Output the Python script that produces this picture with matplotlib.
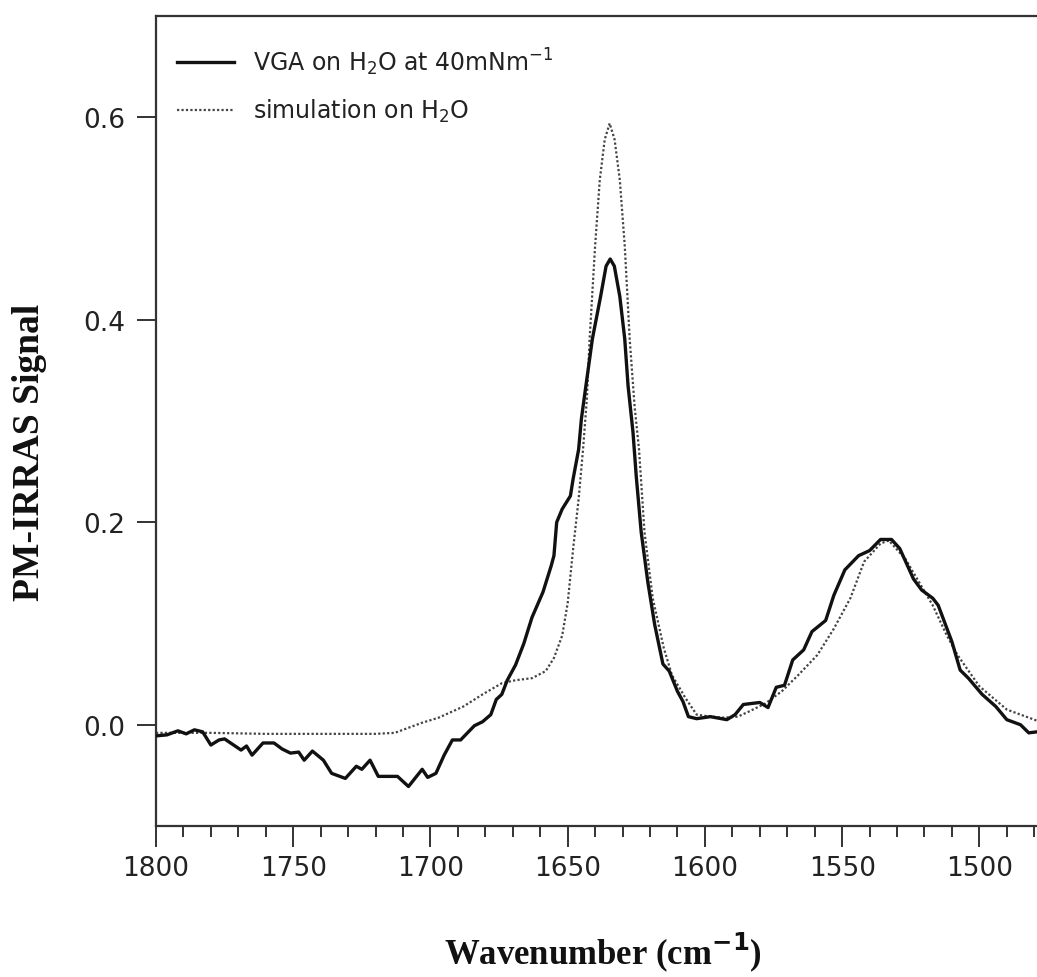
import matplotlib
matplotlib.use("Agg")
import matplotlib.pyplot as plt
from matplotlib.ticker import MultipleLocator

# measured spectrum (VGA monolayer on water)
vga_x = [1800, 1796, 1792, 1789, 1786, 1783, 1780, 1777, 1775, 1769, 1767, 1765,
         1761, 1757, 1754, 1751, 1748, 1746, 1743, 1739, 1736, 1731, 1727, 1725,
         1722, 1719, 1712, 1708, 1703, 1701, 1698, 1695, 1692, 1689, 1684, 1681,
         1678, 1676, 1674, 1672, 1669, 1666, 1663, 1659, 1656, 1655, 1654, 1652,
         1649, 1648, 1646, 1645, 1644, 1641, 1638, 1636, 1634.5, 1633, 1631, 1629.2,
         1628, 1626.2, 1625, 1623.2, 1620.8, 1618.3, 1615.3, 1613, 1610, 1608, 1606, 1603,
         1598, 1592, 1589, 1586, 1580, 1577, 1574, 1571, 1568, 1564, 1561, 1556,
         1553, 1549, 1544, 1540, 1536, 1532, 1529, 1524, 1521, 1517, 1515, 1510,
         1507, 1504, 1499, 1494, 1490, 1485, 1482, 1479]
vga_y = [-0.011, -0.010, -0.006, -0.009, -0.005, -0.007, -0.020, -0.015, -0.014, -0.025, -0.021, -0.030,
         -0.018, -0.018, -0.024, -0.028, -0.027, -0.035, -0.026, -0.035, -0.048, -0.053, -0.041, -0.044,
         -0.035, -0.051, -0.051, -0.061, -0.044, -0.052, -0.048, -0.030, -0.015, -0.015, -0.001, 0.003,
         0.010, 0.025, 0.030, 0.044, 0.059, 0.080, 0.106, 0.131, 0.157, 0.167, 0.200, 0.213,
         0.226, 0.243, 0.272, 0.302, 0.322, 0.381, 0.423, 0.453, 0.460, 0.453, 0.423, 0.381,
         0.335, 0.289, 0.245, 0.190, 0.141, 0.099, 0.060, 0.053, 0.033, 0.023, 0.008, 0.006,
         0.008, 0.005, 0.010, 0.020, 0.022, 0.017, 0.037, 0.039, 0.064, 0.074, 0.092, 0.103,
         0.128, 0.153, 0.167, 0.172, 0.183, 0.183, 0.174, 0.144, 0.133, 0.125, 0.118, 0.082,
         0.054, 0.046, 0.030, 0.018, 0.005, 0.000, -0.008, -0.007]

# simulated spectrum
sim_x = [1800, 1780, 1760, 1740, 1720, 1713, 1709, 1703, 1697, 1688, 1681, 1674,
         1669, 1663, 1658, 1655, 1652, 1650, 1648, 1646, 1644.4, 1643, 1642, 1640,
         1638.3, 1636.5, 1634.7, 1632.9, 1631, 1629.2, 1627.4, 1625.6, 1624, 1622, 1619, 1615,
         1612, 1607, 1603, 1598, 1593, 1588, 1584, 1578, 1572, 1566, 1559, 1553,
         1547, 1542, 1536, 1533, 1527, 1522, 1517, 1512, 1508, 1500, 1490, 1479]
sim_y = [-0.008, -0.008, -0.009, -0.009, -0.009, -0.008, -0.004, 0.002, 0.007, 0.018, 0.030, 0.041,
         0.044, 0.046, 0.053, 0.066, 0.088, 0.120, 0.174, 0.223, 0.272, 0.322, 0.381, 0.473,
         0.538, 0.578, 0.594, 0.578, 0.538, 0.473, 0.381, 0.314, 0.272, 0.190, 0.125, 0.076,
         0.049, 0.026, 0.010, 0.008, 0.007, 0.008, 0.013, 0.021, 0.033, 0.049, 0.069, 0.095,
         0.125, 0.161, 0.179, 0.182, 0.164, 0.141, 0.118, 0.089, 0.069, 0.038, 0.015, 0.004]

y_ticks = [0.0, 0.2, 0.4, 0.6]
y_tick_labels = ['0.0', '0.2', '0.4', '0.6']

plt.rcParams['font.family'] = ['DejaVu Sans']
ink = '#222222'

fig = plt.figure(figsize=(10.37, 9.78), dpi=100)
ax = fig.add_axes([0.1504, 0.1544, 0.8496, 0.8282])

ax.plot(sim_x, sim_y, color='#444444', lw=1.6, linestyle=(0, (1, 1)),
        label='simulation on H$_2$O', zorder=2)
ax.plot(vga_x, vga_y, color='#111111', lw=2.4,
        label='VGA on H$_2$O at 40mNm$^{-1}$', zorder=3)

ax.set_xlim(1800, 1479)
ax.set_ylim(-0.1, 0.7)
ax.xaxis.set_major_locator(MultipleLocator(50))
ax.xaxis.set_minor_locator(MultipleLocator(10))
ax.set_yticks(y_ticks)
ax.set_yticklabels(y_tick_labels)

for side in ['left', 'bottom', 'top']:
    ax.spines[side].set_linewidth(1.6)
    ax.spines[side].set_color('#333333')
ax.spines['right'].set_visible(False)

ax.tick_params(axis='x', which='major', length=15, width=1.4, pad=6,
               labelsize=19, colors='#333333', labelcolor=ink)
ax.tick_params(axis='x', which='minor', length=8, width=1.4, colors='#333333')
ax.tick_params(axis='y', length=14, width=1.4, pad=8, labelsize=19,
               colors='#333333', labelcolor=ink)

ax.set_xlabel('Wavenumber (cm$^{\\mathbf{-1}}$)', family='Liberation Serif',
              fontweight='bold', fontsize=25, color='#111111')
ax.xaxis.set_label_coords(0.507, -0.128)
ax.set_ylabel('PM-IRRAS Signal', family='Liberation Serif',
              fontweight='bold', fontsize=27, color='#111111')
ax.yaxis.set_label_coords(-0.124, 0.463)

# legend order: measured first
handles, labels = ax.get_legend_handles_labels()
leg = ax.legend(handles[::-1], labels[::-1], loc='upper left', frameon=False,
                fontsize=17, handlelength=2.4, handletextpad=0.8,
                labelspacing=0.85, borderaxespad=0.5,
                bbox_to_anchor=(0.0, 0.99))
for t in leg.get_texts():
    t.set_color(ink)

fig.savefig('out.png', dpi=100)
